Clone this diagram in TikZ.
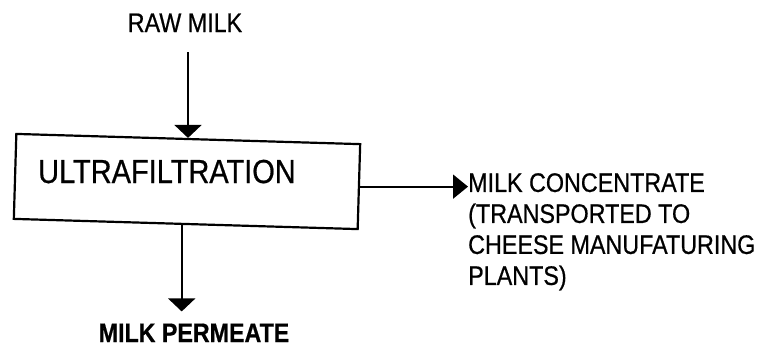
\documentclass[tikz,border=0pt]{standalone}
\usepackage{fontspec}
\setmainfont{Liberation Sans}
\newfontfamily\tallfont[FakeStretch=0.87,FakeBold=0.6]{Liberation Sans}
\usetikzlibrary{arrows.meta}
\tikzset{
  lbl/.style={inner sep=0pt, font=\tallfont\fontsize{26.8}{31}\selectfont},
  procbox/.style={draw, line width=2.2pt, minimum width=344pt, minimum height=85pt, inner sep=0pt},
  vflow/.style={line width=2pt, -{Triangle[length=13pt,width=27pt]}},
  hflow/.style={line width=2pt, -{Triangle[length=15pt,width=24pt]}}
}
\begin{document}
\begin{tikzpicture}[x=1pt,y=-1pt]
\useasboundingbox[fill=white] (0,0) rectangle (766,357);
\node[lbl, anchor=base] (raw) at (185,32) {RAW MILK};
\node[procbox, rotate=-1.7] (box) at (187,181.5) {};
\node[lbl, anchor=base west, font=\tallfont\fontsize{33.3}{36}\selectfont] (ultra) at (38,183) {ULTRAFILTRATION};
\node[lbl, anchor=base, font=\tallfont\bfseries\fontsize{26.7}{31}\selectfont] (perm) at (194,342) {MILK PERMEATE};
\node[lbl, anchor=north west, align=left] (conc) at (468,173) {MILK CONCENTRATE\\(TRANSPORTED TO\\CHEESE MANUFATURING\\PLANTS)};
\draw[vflow, shorten <=20pt] ([xshift=3pt]raw.south) -- ([xshift=3pt]raw.south |- box.north);
\draw[vflow, shorten >=12pt] ([xshift=-4pt]box.south) -- ([xshift=-4pt]box.south |- perm.north);
\draw[hflow] (box.east) -- (box.east -| conc.west);
\end{tikzpicture}
\end{document}
